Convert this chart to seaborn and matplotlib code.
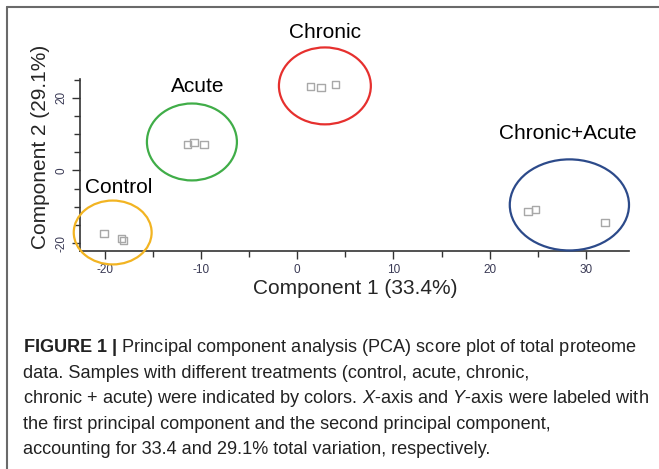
import matplotlib
matplotlib.use("Agg")
import matplotlib.pyplot as plt
from matplotlib import font_manager
from matplotlib.patches import Ellipse
from matplotlib.lines import Line2D
from matplotlib.ticker import MultipleLocator
import seaborn as sns
import pandas as pd

# ---- data ----
groups = ["Control"] * 3 + ["Acute"] * 3 + ["Chronic"] * 3 + ["Chronic+Acute"] * 3
pc1 = [-20.1, -18.3, -18.1, -11.4, -10.75, -9.7, 1.4, 2.45, 4.0, 24.0, 24.8, 32.0]
pc2 = [-17.4, -18.7, -19.3, 7.2, 7.7, 7.2, 23.1, 22.9, 23.7, -11.3, -10.7, -14.3]

group_names = ["Control", "Acute", "Chronic", "Chronic+Acute"]
ellipse_cx = [-19.2, -10.96, 2.87, 28.3]
ellipse_cy = [-17.1, 7.85, 23.3, -9.5]
ellipse_w = [8.1, 9.36, 9.56, 12.4]
ellipse_h = [17.6, 21.2, 21.2, 25.1]
label_x = [-18.6, -10.4, 2.87, 28.1]
label_y = [-4.7, 23.1, 38.0, 10.2]
group_colors = ["#F2B422", "#40AD48", "#E6302E", "#2C4A8A"]

xticks = [-20, -10, 0, 10, 20, 30]
yticks = [-20, 0, 20]

caption_lines = [
    r"$\mathbf{FIGURE\ 1\ |}$ Principal component analysis (PCA) score plot of total proteome",
    "data. Samples with different treatments (control, acute, chronic,",
    r"chronic + acute) were indicated by colors. $\mathit{X}$-axis and $\mathit{Y}$-axis were labeled with",
    "the first principal component and the second principal component,",
    "accounting for 33.4 and 29.1% total variation, respectively.",
]

df = pd.DataFrame({"group": groups, "pc1": pc1, "pc2": pc2})

sns.set_style("ticks")
available = {f.name for f in font_manager.fontManager.ttflist}
narrow = "Liberation Sans Narrow" if "Liberation Sans Narrow" in available else "Liberation Sans"
plt.rcParams["font.family"] = ["Liberation Sans", "DejaVu Sans"]
plt.rcParams["axes.unicode_minus"] = False
plt.rcParams["mathtext.fontset"] = "custom"
plt.rcParams["mathtext.rm"] = narrow
plt.rcParams["mathtext.it"] = narrow + ":italic"
plt.rcParams["mathtext.bf"] = narrow + ":bold"

W, H = 659, 469
fig = plt.figure(figsize=(W / 100, H / 100), dpi=100)
fig.patch.set_facecolor("white")
ax = fig.add_axes([80 / W, 1 - 251 / H, (629 - 80) / W, (251 - 79) / H])
ax.set_facecolor("white")

sns.scatterplot(data=df, x="pc1", y="pc2", marker="s", s=28,
                facecolor="none", edgecolor="#A8A8A8", linewidth=1.0,
                legend=False, ax=ax, zorder=3)

ax.set_xlim(-22.6, 34.5)
ax.set_ylim(-22.2, 25.2)

for name, cx, cy, w, h, lx, ly, c in zip(group_names, ellipse_cx, ellipse_cy,
                                         ellipse_w, ellipse_h, label_x, label_y, group_colors):
    e = Ellipse((cx, cy), w, h, fill=False, edgecolor=c, linewidth=1.6, clip_on=False, zorder=4)
    ax.add_patch(e)
    ax.text(lx, ly, name, ha="center", va="center", fontsize=15, color="black", clip_on=False)

sns.despine(ax=ax)
for sp in ["left", "bottom"]:
    ax.spines[sp].set_color("#333333")
    ax.spines[sp].set_linewidth(1.2)

ax.set_xticks(xticks)
ax.set_yticks(yticks)
ax.xaxis.set_minor_locator(MultipleLocator(5))
ax.yaxis.set_minor_locator(MultipleLocator(5))
ax.tick_params(which="major", length=6, width=1, color="#333333", labelsize=8.5,
               labelcolor="#3A3A55", pad=3)
ax.tick_params(which="minor", length=4, width=1, color="#333333")
for lab in ax.get_yticklabels():
    lab.set_rotation(90)
    lab.set_va("center")

ax.set_xlabel("Component 1 (33.4%)", fontsize=15)
ax.set_ylabel("Component 2 (29.1%)", fontsize=15)
ax.xaxis.label.set_va("center")
ax.yaxis.label.set_va("center")
ax.xaxis.set_label_coords((355 - 80) / 549, (251 - 288) / 172)
ax.yaxis.set_label_coords((41 - 80) / 549, (251 - 146.5) / 172)

# figure frame
fig.add_artist(Line2D([7 / W, 1], [1 - 7 / H, 1 - 7 / H], color="#6A6A6A", linewidth=1.5))
fig.add_artist(Line2D([7 / W, 7 / W], [0, 1 - 7 / H], color="#6A6A6A", linewidth=1.5))

cap_y = [347, 373, 398.5, 424, 449.5]
for line, y in zip(caption_lines, cap_y):
    fig.text(23 / W, 1 - y / H, line, ha="left", va="center", fontsize=13.1,
             family=[narrow, "DejaVu Sans"], color="#222222")

fig.savefig("out.png", dpi=100)
